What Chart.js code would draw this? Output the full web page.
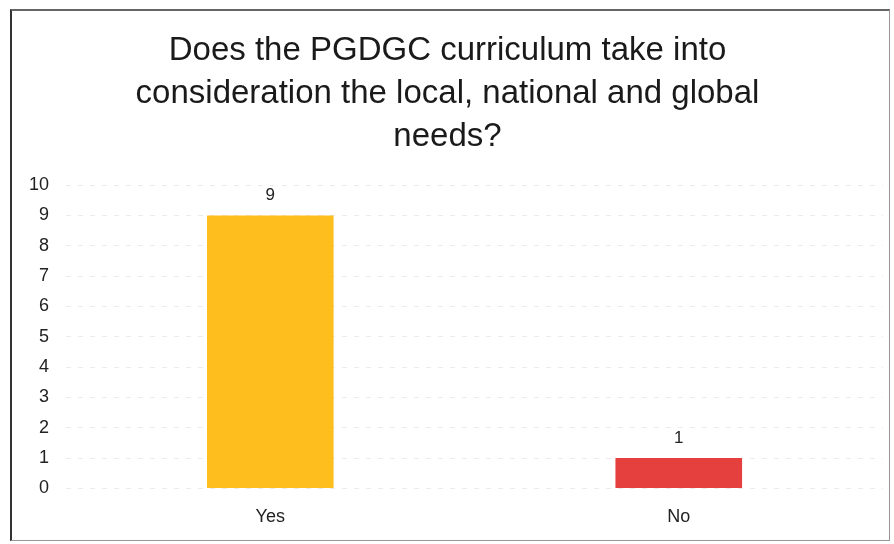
<!DOCTYPE html>
<html>
<head>
<meta charset="utf-8">
<script src="https://cdn.jsdelivr.net/npm/chart.js@4"></script>
<style>
  html, body { margin: 0; padding: 0; background: #fff; }
  #wrap { position: relative; width: 894px; height: 544px; }
  #frame {
    position: absolute; left: 10px; top: 9px; width: 880px; height: 532px;
    border-left: 2px solid #333; border-top: 2px solid #666;
    border-right: 1px solid #999; border-bottom: 1px solid #999;
    box-sizing: border-box; pointer-events: none;
  }
  canvas { position: absolute; left: 0; top: 0; }
</style>
</head>
<body>
<div id="wrap">
  <canvas id="c" width="894" height="544"></canvas>
  <div id="frame"></div>
</div>
<script>
const titleLines = ["Does the PGDGC curriculum take into", "consideration the local, national and global", "needs?"];
const categories = ["Yes", "No"];
const responses = [9, 1];
const barColors = ["#FDBE1E", "#E5403D"];
const yTicks = [0, 1, 2, 3, 4, 5, 6, 7, 8, 9, 10];

// Writes each bar's value just above its top edge
const valueLabels = {
  id: 'valueLabels',
  afterDatasetsDraw(chart) {
    const ctx = chart.ctx;
    const meta = chart.getDatasetMeta(0);
    ctx.save();
    ctx.font = '17px "Liberation Sans", Arial, sans-serif';
    ctx.fillStyle = '#222';
    ctx.textAlign = 'center';
    ctx.textBaseline = 'middle';
    meta.data.forEach((bar, i) => {
      ctx.fillText(String(chart.data.datasets[0].data[i]), bar.x, bar.y - 20);
    });
    ctx.restore();
  }
};

new Chart(document.getElementById('c'), {
  type: 'bar',
  data: {
    labels: categories,
    datasets: [{
      data: responses,
      backgroundColor: barColors,
      borderWidth: 0,
      categoryPercentage: 1,
      barPercentage: 0.31
    }]
  },
  options: {
    responsive: false,
    animation: false,
    layout: { padding: { left: 12, right: 11, top: 14, bottom: -2 } },
    plugins: {
      legend: { display: false },
      tooltip: { enabled: false },
      title: {
        display: true,
        text: titleLines,
        color: '#1a1a1a',
        font: { family: '"Liberation Sans", Arial, sans-serif', size: 33, weight: 'normal', lineHeight: 1.3 },
        padding: { top: 15.5, bottom: 27 }
      }
    },
    scales: {
      x: {
        grid: { display: false, drawTicks: false },
        border: { display: false },
        ticks: { color: '#222', padding: 18, font: { family: '"Liberation Sans", Arial, sans-serif', size: 18 } }
      },
      y: {
        min: 0, max: 10,
        afterBuildTicks(axis) { axis.ticks = yTicks.map(v => ({ value: v })); },
        grid: { color: 'rgba(0,0,0,0.08)', drawTicks: false, lineWidth: 1 },
        border: { display: false, dash: [5, 7] },
        ticks: { color: '#222', padding: 17, font: { family: '"Liberation Sans", Arial, sans-serif', size: 18 } }
      }
    }
  },
  plugins: [valueLabels]
});
</script>
</body>
</html>
